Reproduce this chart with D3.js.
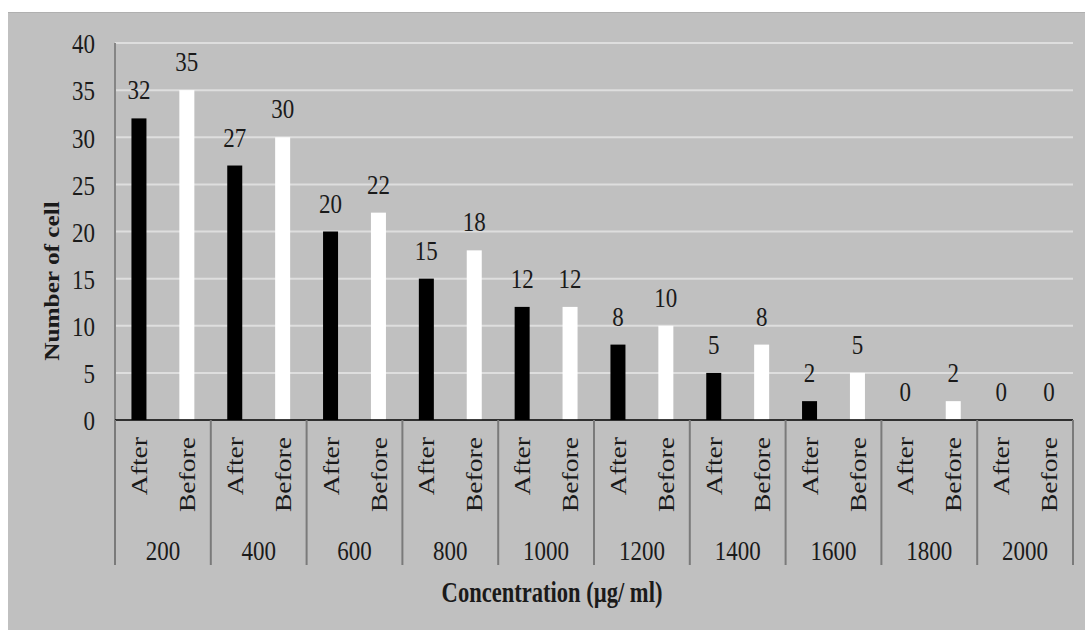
<!DOCTYPE html>
<html>
<head>
<meta charset="utf-8">
<script src="https://cdn.jsdelivr.net/npm/d3@7"></script>
<style>
  html, body { margin: 0; padding: 0; background: #ffffff; }
  svg { display: block; }
  text { font-family: "Liberation Serif", "DejaVu Serif", serif; fill: #1a1a1a; }
</style>
</head>
<body>
<svg id="chart" width="1085" height="630"></svg>
<script>
// Cell counts per concentration, after and before treatment
const concentrations = ["200", "400", "600", "800", "1000", "1200", "1400", "1600", "1800", "2000"];
const phases = ["After", "Before"];
const afterValues = [32, 27, 20, 15, 12, 8, 5, 2, 0, 0];
const beforeValues = [35, 30, 22, 18, 12, 10, 8, 5, 2, 0];
const yTicks = [0, 5, 10, 15, 20, 25, 30, 35, 40];

const rows = concentrations.map((c, i) => ({
  group: c,
  values: [
    { phase: "After", value: afterValues[i] },
    { phase: "Before", value: beforeValues[i] }
  ]
}));

const svg = d3.select("#chart");
const W = 1085, H = 630;
const plot = { left: 115, right: 1073, top: 43, bottom: 420 };
const stretch = 1.2;   // tall, narrow lettering
const fontFam = "'Liberation Serif', 'DejaVu Serif', serif";

// chart area fill
svg.append("rect")
  .attr("x", 8).attr("y", 12)
  .attr("width", W - 8).attr("height", H - 12)
  .attr("fill", "#c0c0c0");
svg.append("line")
  .attr("x1", 8).attr("x2", W).attr("y1", 12.5).attr("y2", 12.5)
  .attr("stroke", "#b0b0b0").attr("stroke-width", 1);

const x0 = d3.scaleBand().domain(concentrations).range([plot.left, plot.right]).padding(0);
const x1 = d3.scaleBand().domain(phases).range([0, x0.bandwidth()]).padding(0);
const y = d3.scaleLinear().domain([0, 40]).range([plot.bottom, plot.top]);
const barW = 15;

// horizontal gridlines
svg.append("g")
  .selectAll("line")
  .data(yTicks.filter(t => t > 0))
  .join("line")
  .attr("x1", plot.left).attr("x2", plot.right)
  .attr("y1", d => y(d)).attr("y2", d => y(d))
  .attr("stroke", "#dedede").attr("stroke-width", 2);

// y axis
const yAxis = svg.append("g")
  .attr("transform", `translate(${plot.left},0)`)
  .call(d3.axisLeft(y).tickValues(yTicks).tickSize(0).tickPadding(20));
yAxis.attr("font-family", fontFam);
yAxis.select(".domain").remove();
yAxis.selectAll("text")
  .attr("font-size", 23)
  .attr("fill", "#1a1a1a")
  .attr("dy", null)
  .attr("dominant-baseline", "central")
  .attr("transform", `scale(1,${stretch})`);
svg.append("line")
  .attr("x1", plot.left).attr("x2", plot.left)
  .attr("y1", plot.top).attr("y2", plot.bottom)
  .attr("stroke", "#858585").attr("stroke-width", 2);

// bars
const groups = svg.append("g")
  .selectAll("g")
  .data(rows)
  .join("g")
  .attr("transform", d => `translate(${x0(d.group)},0)`);

groups.selectAll("rect")
  .data(d => d.values)
  .join("rect")
  .attr("x", d => x1(d.phase) + x1.bandwidth() / 2 - barW / 2)
  .attr("y", d => y(d.value))
  .attr("width", barW)
  .attr("height", d => y(0) - y(d.value))
  .attr("fill", d => d.phase === "After" ? "#000000" : "#ffffff");

// value labels
groups.selectAll("text.val")
  .data(d => d.values)
  .join("text")
  .attr("class", "val")
  .attr("text-anchor", "middle")
  .attr("font-size", 23)
  .attr("transform", d =>
    `translate(${x1(d.phase) + x1.bandwidth() / 2},${y(d.value) - 19}) scale(1,${stretch})`)
  .text(d => d.value);

// baseline
svg.append("line")
  .attr("x1", plot.left).attr("x2", plot.right)
  .attr("y1", y(0)).attr("y2", y(0))
  .attr("stroke", "#000000").attr("stroke-width", 1.5);

// group separators below the axis
const bounds = concentrations.map(c => x0(c)).concat([plot.right]);
svg.append("g")
  .selectAll("line")
  .data(bounds)
  .join("line")
  .attr("x1", d => d).attr("x2", d => d)
  .attr("y1", y(0)).attr("y2", 565)
  .attr("stroke", "#7a7a7a").attr("stroke-width", 2);

// phase labels (rotated)
groups.selectAll("text.phase")
  .data(d => d.values)
  .join("text")
  .attr("class", "phase")
  .attr("text-anchor", "end")
  .attr("dominant-baseline", "central")
  .attr("font-size", 23)
  .attr("transform", d =>
    `translate(${x1(d.phase) + x1.bandwidth() / 2},437) rotate(-90) scale(${stretch},1)`)
  .text(d => d.phase);

// concentration labels
svg.append("g")
  .selectAll("text")
  .data(concentrations)
  .join("text")
  .attr("text-anchor", "middle")
  .attr("dominant-baseline", "central")
  .attr("font-size", 23)
  .attr("transform", d => `translate(${x0(d) + x0.bandwidth() / 2},550) scale(1,${stretch})`)
  .text(d => d);

// axis titles
svg.append("text")
  .attr("text-anchor", "middle")
  .attr("dominant-baseline", "central")
  .attr("font-size", 23)
  .attr("font-weight", "bold")
  .attr("transform", `translate(552,593) scale(0.98,1.25)`)
  .text("Concentration (µg/ ml)");

svg.append("text")
  .attr("text-anchor", "middle")
  .attr("dominant-baseline", "central")
  .attr("font-size", 22)
  .attr("font-weight", "bold")
  .attr("transform", `translate(52,281) rotate(-90) scale(1.15,1)`)
  .text("Number of cell");
</script>
</body>
</html>
